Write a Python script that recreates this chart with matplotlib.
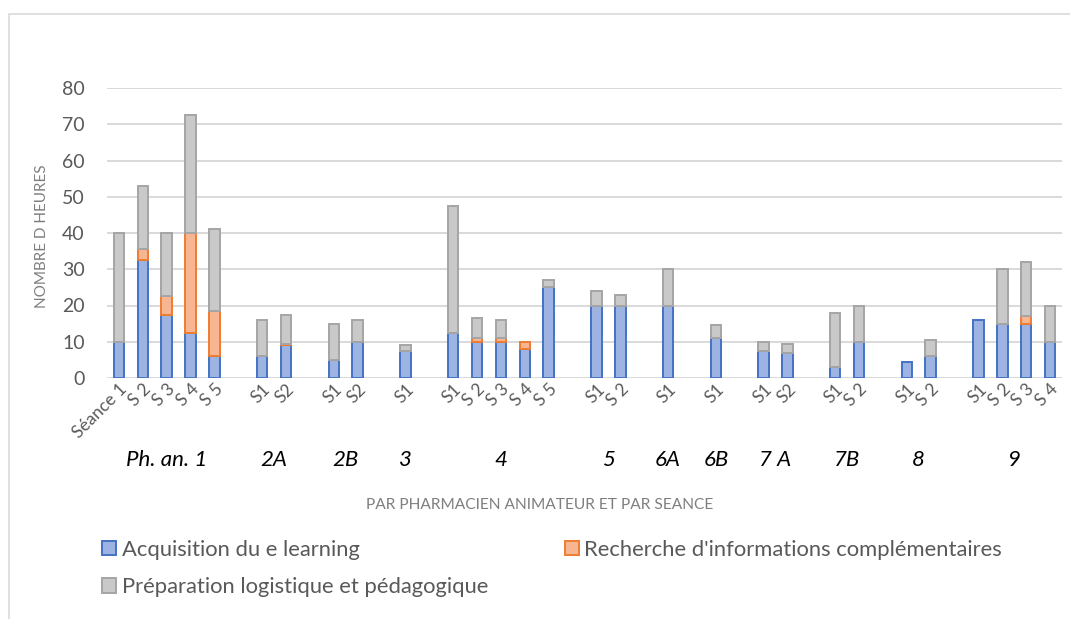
import numpy as np
import matplotlib
matplotlib.use("Agg")
import matplotlib.pyplot as plt
from matplotlib.patches import Rectangle, Patch

plt.rcParams['font.family'] = ['Lato', 'DejaVu Sans']

# groups (pharmacien animateur) and their sessions
groups = ["Ph. an. 1", "2A", "2B", "3", "4", "5", "6A", "6B", "7 A", "7B", "8", "9"]
session_labels = [
    ["Séance 1", "S 2", "S 3", "S 4", "S 5"],
    ["S1", "S2"],
    ["S1", "S2"],
    ["S1"],
    ["S1", "S 2", "S 3", "S 4", "S 5"],
    ["S1", "S 2"],
    ["S1"],
    ["S1"],
    ["S1", "S2"],
    ["S1", "S 2"],
    ["S1", "S 2"],
    ["S1", "S 2", "S 3", "S 4"],
]

acquisition = [
    [10, 32.5, 17.5, 12.5, 6],
    [6, 9],
    [5, 10],
    [7.5],
    [12.5, 10, 10, 8, 25],
    [20, 20],
    [20],
    [11],
    [7.5, 7],
    [3, 10],
    [4.5, 6],
    [16, 15, 15, 10],
]
recherche = [
    [0, 3, 5, 27.5, 12.5],
    [0, 0.5],
    [0, 0],
    [0],
    [0, 1, 1, 2, 0],
    [0, 0],
    [0],
    [0],
    [0, 0],
    [0, 0],
    [0, 0],
    [0, 0, 2, 0],
]
preparation = [
    [30, 17.5, 17.5, 32.5, 22.5],
    [10, 8],
    [10, 6],
    [1.5],
    [35, 5.5, 5, 0, 2],
    [4, 3],
    [10],
    [3.5],
    [2.5, 2.5],
    [15, 10],
    [0, 4.5],
    [0, 15, 15, 10],
]

series_names = ["Acquisition du e learning",
                "Recherche d'informations complémentaires",
                "Préparation logistique et pédagogique"]
fills = ["#9db4e2", "#f7b691", "#c9c9c9"]
edges = ["#4472c4", "#ed7d31", "#a5a5a5"]

# positions: one empty slot between groups
xpos, xlab, acq, rec, prep, centers = [], [], [], [], [], []
slot = 0
for g, labs in enumerate(session_labels):
    start = slot
    for i, lab in enumerate(labs):
        xpos.append(slot)
        xlab.append(lab)
        acq.append(acquisition[g][i])
        rec.append(recherche[g][i])
        prep.append(preparation[g][i])
        slot += 1
    centers.append((start + slot - 1) / 2)
    slot += 1
xpos = np.array(xpos)
acq, rec, prep = np.array(acq), np.array(rec), np.array(prep)

fig = plt.figure(figsize=(10.70, 6.19), dpi=100)
ax = fig.add_axes([107 / 1070, 1 - 378 / 619, (1062 - 107) / 1070, (378 - 88) / 619])

w = 0.44
ax.bar(xpos, acq, w, color=fills[0], edgecolor=edges[0], linewidth=1.4, zorder=3)
mask = rec > 0
ax.bar(xpos[mask], rec[mask], w, bottom=acq[mask], color=fills[1], edgecolor=edges[1], linewidth=1.4, zorder=3)
mask = prep > 0
ax.bar(xpos[mask], prep[mask], w, bottom=(acq + rec)[mask], color=fills[2], edgecolor=edges[2], linewidth=1.4, zorder=3)

ax.set_xlim(-0.5, slot - 1.5)
ax.set_ylim(0, 80)
ax.set_yticks(np.arange(0, 81, 10))
ax.yaxis.grid(True, color="#d9d9d9", linewidth=1.4, zorder=0)
for s in ax.spines.values():
    s.set_visible(False)
ax.tick_params(axis="y", length=0, pad=16, labelsize=14, labelcolor="#595959")
ax.tick_params(axis="x", length=0, pad=2, labelsize=12.5, labelcolor="#595959")
ax.set_xticks(xpos)
ax.set_xticklabels(xlab, rotation=45, ha="right", va="top", rotation_mode="anchor")

# group labels under the sessions
for c, g in zip(centers, groups):
    ax.text(c, -0.283, g, transform=ax.get_xaxis_transform(), ha="center", va="center",
            fontsize=16, style="italic", color="black")

fig.text(540 / 1070, 1 - 505 / 619, "PAR PHARMACIEN ANIMATEUR ET PAR SEANCE",
         ha="center", va="center", fontsize=11.2, color="#7f7f7f")
fig.text(42 / 1070, 1 - 236 / 619, "NOMBRE D HEURES", rotation=90,
         ha="center", va="center", fontsize=11, color="#7f7f7f")

# legend: column-first fill -> Acq, Prep in col 1, Rech in col 2
handles = [Patch(facecolor=fills[i], edgecolor=edges[i], linewidth=1.4) for i in range(3)]
order = [0, 2, 1]
fig.legend([handles[i] for i in order], [series_names[i] for i in order],
           loc="upper left", bbox_to_anchor=(82 / 1070, 1 - 520 / 619), ncol=2,
           frameon=False, fontsize=15.8, labelcolor="#595959",
           handlelength=0.65, handleheight=0.65, handletextpad=0.25,
           columnspacing=3.5, labelspacing=0.8)

# outer frame of the chart area
fig.patches.append(Rectangle((9 / 1070, -0.1), 1.2, 1 - 14 / 619 + 0.1, transform=fig.transFigure,
                             fill=False, edgecolor="#d9d9d9", linewidth=1.2))

fig.savefig("out.png", dpi=100)
